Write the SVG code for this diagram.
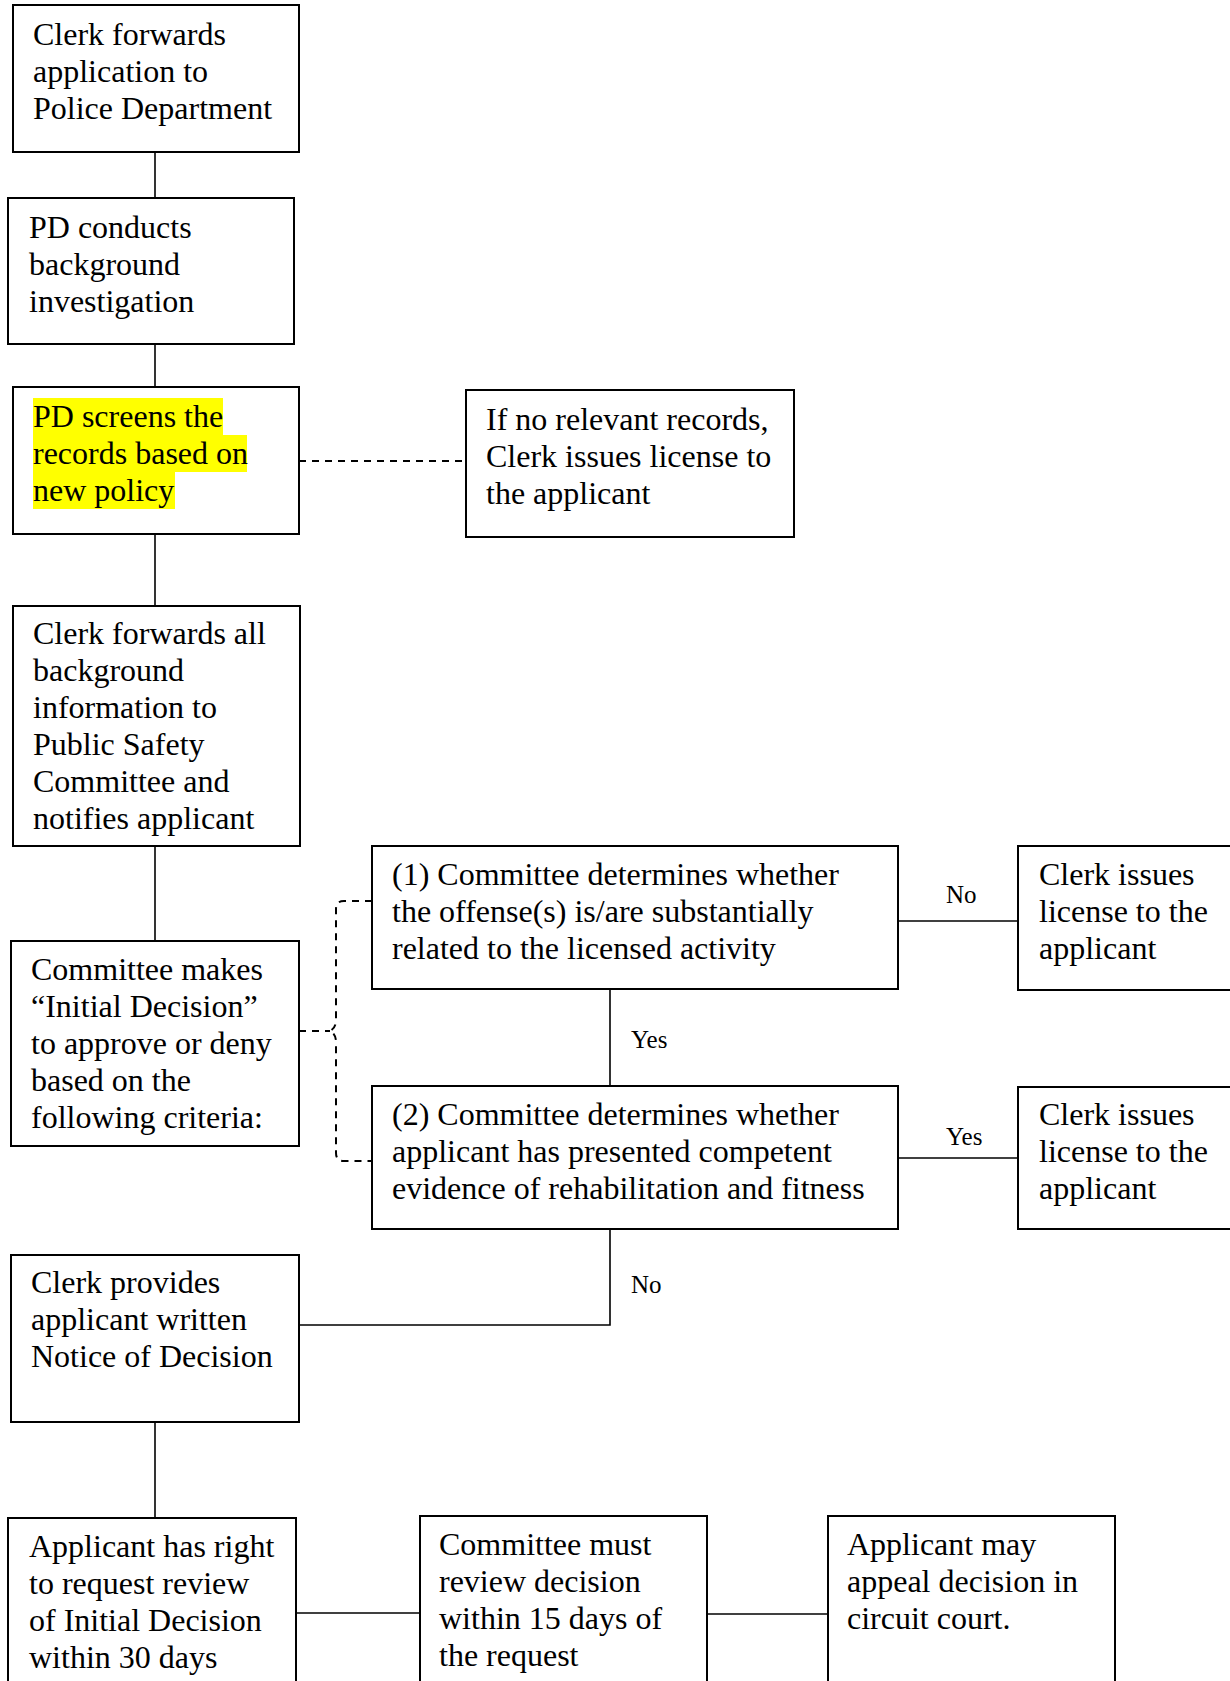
<svg xmlns="http://www.w3.org/2000/svg" width="1230" height="1681" viewBox="0 0 1230 1681">
<style>
.box{fill:#fff;stroke:#000;stroke-width:2}
.t{font-family:"Liberation Serif","Times New Roman",serif;font-size:32px;fill:#000}
.lbl{font-family:"Liberation Serif","Times New Roman",serif;font-size:25px;fill:#000}
.c{fill:none;stroke:#000;stroke-width:1.6}
.d{fill:none;stroke:#000;stroke-width:2;stroke-dasharray:7,6}
.hl{fill:#ffff00}
</style>
<rect width="1230" height="1681" fill="#fff"/>
<g id="connectors">
<path class="c" d="M155,152 V198"/>
<path class="c" d="M155,344 V387"/>
<path class="c" d="M155,534 V606"/>
<path class="c" d="M155,846 V941"/>
<path class="d" d="M299,461 H466"/>
<path class="d" d="M299,1031 H330 M372,901 H344 Q336,901 336,909 V1020 Q336,1028 330,1031 Q336,1034 336,1042 V1153 Q336,1161 344,1161 H372"/>
<path class="c" d="M898,921 H1018"/>
<path class="c" d="M610,989 V1086"/>
<path class="c" d="M898,1158 H1018"/>
<path class="c" d="M610,1229 V1325 H299"/>
<path class="c" d="M155,1422 V1518"/>
<path class="c" d="M296,1613 H420"/>
<path class="c" d="M707,1614 H828"/>
<text class="lbl" x="946" y="903">No</text>
<text class="lbl" x="631" y="1048">Yes</text>
<text class="lbl" x="946" y="1145">Yes</text>
<text class="lbl" x="631" y="1293">No</text>
</g>
<g id="n1"><rect class="box" x="13" y="5" width="286" height="147"/>
<text class="t" x="33" y="45">Clerk forwards</text><text class="t" x="33" y="82">application to</text><text class="t" x="33" y="119">Police Department</text></g>
<g id="n2"><rect class="box" x="8" y="198" width="286" height="146"/>
<text class="t" x="29" y="238">PD conducts</text><text class="t" x="29" y="275">background</text><text class="t" x="29" y="312">investigation</text></g>
<g id="n3"><rect class="box" x="13" y="387" width="286" height="147"/>
<rect class="hl" x="33" y="398" width="190" height="37"/><rect class="hl" x="33" y="435" width="214" height="37"/><rect class="hl" x="33" y="472" width="142" height="37"/>
<text class="t" x="33" y="427">PD screens the</text><text class="t" x="33" y="464">records based on</text><text class="t" x="33" y="501">new policy</text></g>
<g id="n4"><rect class="box" x="466" y="390" width="328" height="147"/>
<text class="t" x="486" y="430">If no relevant records,</text><text class="t" x="486" y="467">Clerk issues license to</text><text class="t" x="486" y="504">the applicant</text></g>
<g id="n5"><rect class="box" x="13" y="606" width="287" height="240"/>
<text class="t" x="33" y="644">Clerk forwards all</text><text class="t" x="33" y="681">background</text><text class="t" x="33" y="718">information to</text><text class="t" x="33" y="755">Public Safety</text><text class="t" x="33" y="792">Committee and</text><text class="t" x="33" y="829">notifies applicant</text></g>
<g id="n6"><rect class="box" x="11" y="941" width="288" height="205"/>
<text class="t" x="31" y="980">Committee makes</text><text class="t" x="31" y="1017">“Initial Decision”</text><text class="t" x="31" y="1054">to approve or deny</text><text class="t" x="31" y="1091">based on the</text><text class="t" x="31" y="1128">following criteria:</text></g>
<g id="n7"><rect class="box" x="372" y="846" width="526" height="143"/>
<text class="t" x="392" y="885">(1) Committee determines whether</text><text class="t" x="392" y="922">the offense(s) is/are substantially</text><text class="t" x="392" y="959">related to the licensed activity</text></g>
<g id="n8"><rect class="box" x="1018" y="846" width="230" height="144"/>
<text class="t" x="1039" y="885">Clerk issues</text><text class="t" x="1039" y="922">license to the</text><text class="t" x="1039" y="959">applicant</text></g>
<g id="n9"><rect class="box" x="372" y="1086" width="526" height="143"/>
<text class="t" x="392" y="1125">(2) Committee determines whether</text><text class="t" x="392" y="1162">applicant has presented competent</text><text class="t" x="392" y="1199">evidence of rehabilitation and fitness</text></g>
<g id="n10"><rect class="box" x="1018" y="1087" width="230" height="142"/>
<text class="t" x="1039" y="1125">Clerk issues</text><text class="t" x="1039" y="1162">license to the</text><text class="t" x="1039" y="1199">applicant</text></g>
<g id="n11"><rect class="box" x="11" y="1255" width="288" height="167"/>
<text class="t" x="31" y="1293">Clerk provides</text><text class="t" x="31" y="1330">applicant written</text><text class="t" x="31" y="1367">Notice of Decision</text></g>
<g id="n12"><rect class="box" x="8" y="1518" width="288" height="200"/>
<text class="t" x="29" y="1557">Applicant has right</text><text class="t" x="29" y="1594">to request review</text><text class="t" x="29" y="1631">of Initial Decision</text><text class="t" x="29" y="1668">within 30 days</text></g>
<g id="n13"><rect class="box" x="420" y="1516" width="287" height="200"/>
<text class="t" x="439" y="1555">Committee must</text><text class="t" x="439" y="1592">review decision</text><text class="t" x="439" y="1629">within 15 days of</text><text class="t" x="439" y="1666">the request</text></g>
<g id="n14"><rect class="box" x="828" y="1516" width="287" height="200"/>
<text class="t" x="847" y="1555">Applicant may</text><text class="t" x="847" y="1592">appeal decision in</text><text class="t" x="847" y="1629">circuit court.</text></g>
</svg>
